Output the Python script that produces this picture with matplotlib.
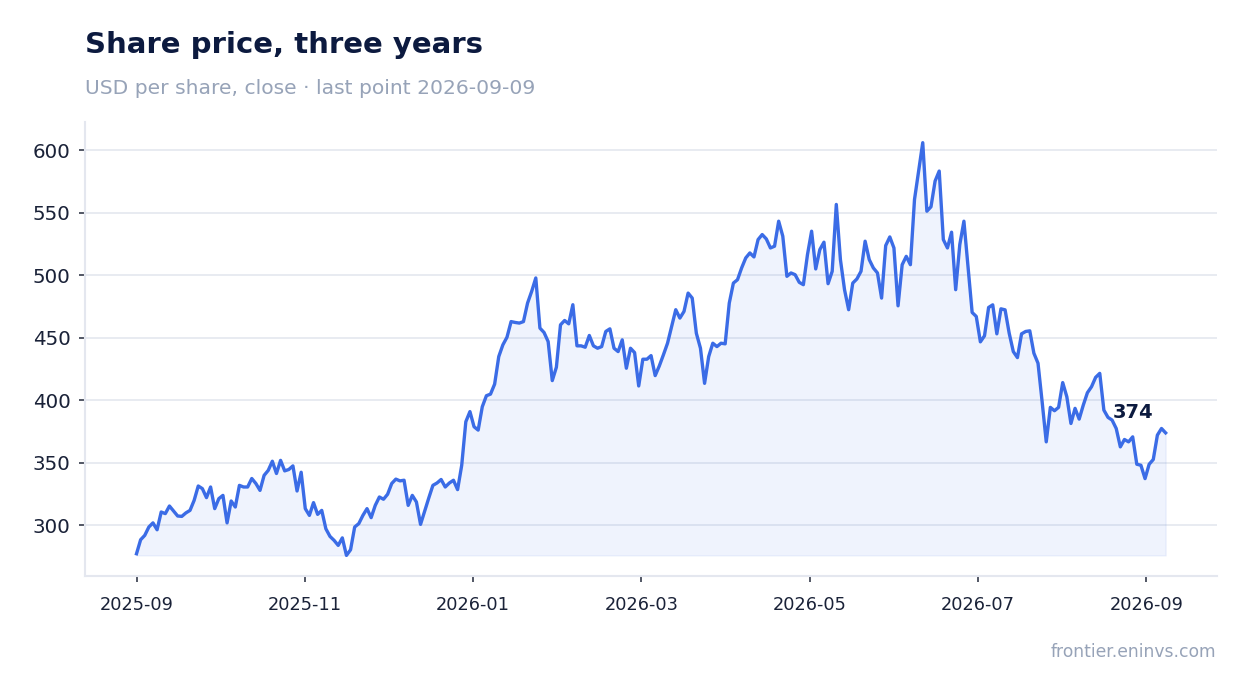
"""Share price line chart with a light area fill and last-point label."""

import matplotlib

matplotlib.use("Agg")
import matplotlib.pyplot as plt
import matplotlib.dates as mdates
import pandas as pd

START_DATE = "2025-09-01"
END_DATE = "2026-09-09"
TICK_STEP = "61D"  # the reference puts a tick every 61 days from the start
N_TICKS = 7

# closing prices, evenly spaced in time
prices = [
    277.3, 288.5, 292.0, 298.7, 302.0, 296.5, 310.7, 309.4, 315.5, 311.5,
    307.5, 307.2, 310.0, 312.0, 320.0, 331.5, 329.4, 322.2, 330.7, 313.4,
    321.4, 324.0, 302.0, 319.5, 314.7, 332.0, 330.7, 330.7, 337.5, 333.5,
    328.0, 340.0, 344.0, 351.3, 341.5, 352.0, 343.6, 344.7, 347.6, 327.5,
    342.5, 313.4, 308.0, 318.2, 308.8, 312.0, 297.3, 291.2, 288.0, 284.0,
    290.0, 276.0, 280.5, 298.7, 301.4, 308.0, 313.4, 306.2, 316.0, 322.7,
    320.9, 324.9, 333.5, 337.0, 335.6, 336.1, 316.0, 324.0, 318.7, 300.8,
    311.5, 321.9, 332.0, 333.9, 336.7, 330.7, 333.9, 336.1, 328.6, 348.0,
    382.9, 391.0, 378.9, 376.2, 394.9, 403.7, 405.0, 413.0, 435.0, 444.4,
    450.5, 463.0, 462.3, 461.8, 463.0, 477.8, 487.2, 497.9, 457.8, 454.3,
    447.0, 415.8, 426.5, 460.4, 463.9, 461.2, 476.5, 443.6, 443.6, 442.5,
    451.9, 443.6, 441.7, 443.0, 455.1, 457.2, 441.7, 439.0, 448.4, 425.7,
    441.7, 438.2, 411.5, 432.9, 432.9, 435.8, 419.8, 427.5, 436.4, 445.7,
    459.1, 472.5, 465.8, 471.1, 485.8, 481.8, 453.7, 441.7, 413.6, 435.0,
    445.7, 443.0, 445.7, 445.2, 477.8, 493.8, 496.5, 505.9, 513.9, 517.9,
    514.7, 528.6, 532.6, 529.1, 521.9, 523.3, 543.3, 531.3, 499.2, 501.9,
    500.5, 494.4, 492.5, 516.6, 535.3, 505.1, 520.6, 526.5, 493.3, 503.2,
    556.7, 512.6, 488.5, 472.5, 493.8, 497.1, 503.2, 527.3, 512.6, 505.9,
    501.9, 481.8, 523.8, 530.7, 521.9, 475.6, 508.5, 515.2, 508.5, 560.7,
    583.4, 606.1, 551.3, 554.8, 575.4, 583.4, 528.6, 521.9, 534.5, 488.5,
    524.6, 543.3, 507.2, 470.3, 467.1, 446.8, 451.6, 474.3, 476.4, 453.2,
    473.2, 472.4, 453.7, 439.0, 434.2, 453.2, 455.1, 455.6, 437.7, 429.7,
    398.9, 366.8, 394.4, 391.7, 394.4, 414.2, 402.9, 381.5, 393.6, 385.0,
    396.2, 406.1, 410.9, 418.4, 421.6, 392.2, 386.4, 384.2, 377.5, 362.8,
    368.7, 366.8, 370.8, 348.9, 348.1, 337.4, 348.9, 352.7, 372.2, 377.5,
    374.0,
]

TITLE = "Share price, three years"
SUBTITLE = "USD per share, close · last point 2026-09-09"
SOURCE = "frontier.eninvs.com"

LINE_COLOR = "#3b6ce6"
NAVY = "#0c1a3f"
MUTED = "#97a3b8"
GRID = "#e4e7ef"
TICK_TEXT = "#1a2238"


def main() -> None:
    dates = pd.date_range(START_DATE, END_DATE, periods=len(prices))

    fig = plt.figure(figsize=(12.47, 6.93), dpi=100)
    ax = fig.add_axes([0.0682, 0.1688, 0.9078, 0.6551])

    ax.fill_between(dates, prices, min(prices), color=LINE_COLOR,
                    alpha=0.08, linewidth=1)
    ax.plot(dates, prices, color=LINE_COLOR, linewidth=2.4)

    ax.annotate(
        f"{prices[-1]:.0f}",
        xy=(dates[-1], prices[-1]),
        xytext=(-9, 15),
        textcoords="offset points",
        ha="right",
        va="center",
        fontsize=14,
        fontweight="bold",
        color=NAVY,
    )

    ax.set_xticks(pd.date_range(START_DATE, periods=N_TICKS, freq=TICK_STEP))
    ax.xaxis.set_major_formatter(mdates.DateFormatter("%Y-%m"))
    ax.set_yticks([300, 350, 400, 450, 500, 550, 600])

    ax.yaxis.grid(True, color=GRID, linewidth=1.2)
    ax.set_axisbelow(True)
    for side in ("top", "right"):
        ax.spines[side].set_visible(False)
    for side in ("left", "bottom"):
        ax.spines[side].set_color(GRID)
        ax.spines[side].set_linewidth(1.5)

    ax.tick_params(axis="y", labelsize=14.3, colors="#333a4a",
                   labelcolor=TICK_TEXT, length=4.5, width=1.2, pad=6)
    ax.tick_params(axis="x", labelsize=12.8, colors="#333a4a",
                   labelcolor=TICK_TEXT, length=4.5, width=1.2, pad=10)

    fig.text(0.0682, 0.923, TITLE, fontsize=21, fontweight="bold",
             color=NAVY, va="baseline", ha="left")
    fig.text(0.0682, 0.864, SUBTITLE, fontsize=14.6, color=MUTED,
             va="baseline", ha="left")
    fig.text(0.975, 0.059, SOURCE, fontsize=12.3, color=MUTED,
             va="center", ha="right")

    fig.savefig("out.png", dpi=100)
    plt.close(fig)


if __name__ == "__main__":
    main()
